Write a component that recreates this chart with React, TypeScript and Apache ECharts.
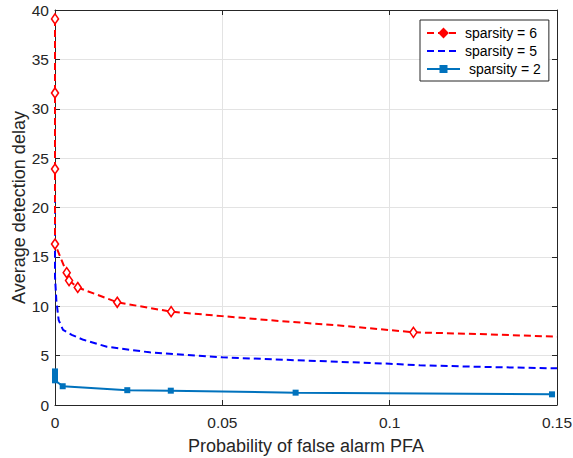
import React, { useEffect, useRef } from "react";
import * as echarts from "echarts";

// sparsity = 6 : [x, y, hasMarker]
const s6X = [0, 0, 0, 0, 0.0035, 0.0042, 0.0068, 0.0186, 0.0347, 0.05, 0.0673, 0.085, 0.1071, 0.129, 0.15];
const s6Y = [39.1, 31.6, 23.9, 16.3, 13.4, 12.6, 11.9, 10.4, 9.45, 9.0, 8.5, 8.05, 7.36, 7.16, 6.92];
const s6Marker = [1, 1, 1, 1, 1, 1, 1, 1, 1, 0, 0, 0, 1, 0, 0];

// sparsity = 5 (no markers)
const s5X = [0, 0, 0.0004, 0.0011, 0.0024, 0.005, 0.0085, 0.0155, 0.0283, 0.05, 0.0653, 0.1, 0.109, 0.129, 0.15];
const s5Y = [21.2, 13.0, 10.6, 8.6, 7.6, 7.1, 6.6, 5.9, 5.33, 4.83, 4.62, 4.18, 4.02, 3.85, 3.71];

// sparsity = 2
const s2X = [0, 0, 0, 0.0023, 0.0216, 0.0346, 0.0719, 0.1485];
const s2Y = [3.4, 2.9, 2.5, 1.9, 1.5, 1.45, 1.25, 1.08];

const seriesNames = ["sparsity = 6", "sparsity = 5", "\u00a0sparsity = 2"];
const xTicks = { min: 0, max: 0.15, interval: 0.05 };
const yTicks = { min: 0, max: 40, interval: 5 };

const TXT = "#262626";
const FONT = "Liberation Sans, Arial, Helvetica, sans-serif";

export default function App() {
  const ref = useRef<HTMLDivElement>(null);
  useEffect(() => {
    if (!ref.current) return;
    const chart = echarts.init(ref.current, undefined, { renderer: "svg" });
    const s6Data = s6X.map((x, i) =>
      s6Marker[i] ? { value: [x, s6Y[i]] } : { value: [x, s6Y[i]], symbol: "none" }
    );
    const s5Data = s5X.map((x, i) => [x, s5Y[i]]);
    const s2Data = s2X.map((x, i) => [x, s2Y[i]]);

    const axisCommon = {
      axisLine: { show: true, onZero: false, lineStyle: { color: TXT, width: 1 } },
      axisTick: { show: true, inside: true, length: 5, lineStyle: { color: TXT } },
    };

    chart.setOption({
      animation: false,
      backgroundColor: "#ffffff",
      textStyle: { fontFamily: FONT },
      grid: { left: 55, right: 16, top: 10, bottom: 53, containLabel: false, outerBoundsMode: "none" },
      legend: {
        orient: "vertical",
        left: 420,
        top: 20,
        padding: [6, 8, 5, 6],
        itemWidth: 33,
        itemHeight: 10,
        itemGap: 4,
        backgroundColor: "#ffffff",
        borderColor: TXT,
        borderWidth: 1,
        borderRadius: 0,
        textStyle: { fontSize: 14, lineHeight: 14, color: "#000", fontFamily: FONT },
        data: [
          { name: seriesNames[0], itemStyle: { color: "#ff0000", borderColor: "#ff0000" } },
          { name: seriesNames[1], itemStyle: { opacity: 0 } },
          { name: seriesNames[2] },
        ],
      },
      xAxis: [
        {
          type: "value",
          ...xTicks,
          ...axisCommon,
          position: "bottom",
          name: "Probability of false alarm PFA",
          nameLocation: "middle",
          nameGap: 32,
          nameMoveOverlap: false,
          nameTextStyle: { fontSize: 18, color: TXT, fontFamily: FONT },
          axisLabel: { fontSize: 15.5, color: TXT, margin: 9, fontFamily: FONT },
          splitLine: { show: true, lineStyle: { color: "#e3e3e3", width: 1 } },
        },
        {
          type: "value",
          ...xTicks,
          ...axisCommon,
          position: "top",
          axisLabel: { show: false },
          splitLine: { show: false },
        },
      ],
      yAxis: [
        {
          type: "value",
          ...yTicks,
          ...axisCommon,
          position: "left",
          name: "Average detection delay",
          nameLocation: "middle",
          nameGap: 27,
          nameMoveOverlap: false,
          nameTextStyle: { fontSize: 18, color: TXT, fontFamily: FONT },
          axisLabel: { fontSize: 15.5, color: TXT, margin: 6, fontFamily: FONT },
          splitLine: { show: true, lineStyle: { color: "#e3e3e3", width: 1 } },
        },
        {
          type: "value",
          ...yTicks,
          ...axisCommon,
          position: "right",
          axisLabel: { show: false },
          splitLine: { show: false },
        },
      ],
      series: [
        {
          name: seriesNames[1],
          type: "line",
          data: s5Data,
          symbol: "none",
          clip: false,
          z: 2,
          lineStyle: { color: "#0000ff", width: 2, type: [7, 4] },
          itemStyle: { color: "#0000ff" },
        },
        {
          name: seriesNames[0],
          type: "line",
          data: s6Data,
          symbol: "diamond",
          symbolSize: [7, 10],
          clip: false,
          z: 3,
          lineStyle: { color: "#ff0000", width: 2, type: [7, 4] },
          itemStyle: { color: "#ffffff", borderColor: "#ff0000", borderWidth: 1.6 },
        },
        {
          name: seriesNames[2],
          type: "line",
          data: s2Data,
          symbol: "rect",
          symbolSize: 6,
          clip: false,
          z: 4,
          lineStyle: { color: "#0072BD", width: 2 },
          itemStyle: { color: "#0072BD" },
        },
      ],
    });
    return () => chart.dispose();
  }, []);
  return (
    <div
      ref={ref}
      style={{ position: "fixed", left: 0, top: 0, width: 573, height: 458, background: "#fff" }}
    />
  );
}
